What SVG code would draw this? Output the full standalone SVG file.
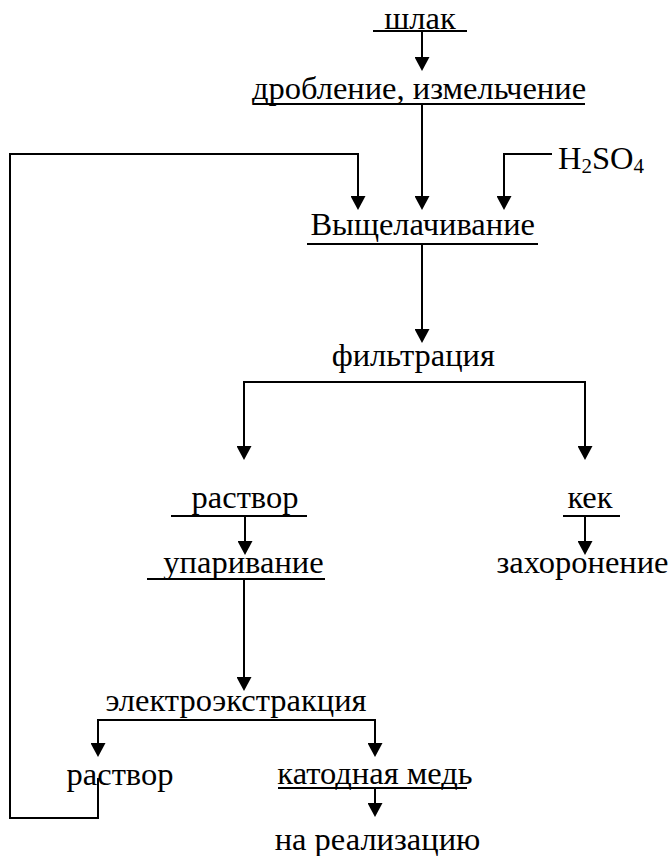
<svg xmlns="http://www.w3.org/2000/svg" width="670" height="856" viewBox="0 0 670 856">
<style>
.ul{stroke:#000;stroke-width:2;fill:none}
.c{stroke:#000;stroke-width:2;fill:none}
.a{stroke:#000;stroke-width:2;fill:none;marker-end:url(#ah)}
</style>
<defs>
<marker id="ah" viewBox="0 0 14 15" refX="11" refY="7.5" markerWidth="14" markerHeight="15" markerUnits="userSpaceOnUse" orient="auto">
<path d="M0,0 L14,7.5 L0,15 Z" fill="#000"/>
</marker>
</defs>
<rect width="670" height="856" fill="#fff"/>
<g id="connectors">
<path class="a" d="M422,31 V68"/>
<path class="a" d="M422,104 V207"/>
<path class="c" d="M98,778 V818 H10 V154 H358 V170"/>
<path class="a" d="M358,154 V207"/>
<path class="c" d="M552,154 H504 V170"/>
<path class="a" d="M504,154 V207"/>
<path class="a" d="M422,244 V340"/>
<path class="c" d="M244,382 H585"/>
<path class="a" d="M244,381 V457"/>
<path class="a" d="M585,381 V457"/>
<path class="a" d="M245,516 V552"/>
<path class="a" d="M585,516 V552"/>
<path class="a" d="M244,579 V688"/>
<path class="c" d="M98,720 H375"/>
<path class="a" d="M98,719 V754"/>
<path class="a" d="M375,719 V754"/>
<path class="a" d="M375,788 V814"/>
</g>
<g id="n-shlak">
<text x="420" y="29" font-family="Liberation Serif" font-size="32.5" text-anchor="middle">шлак</text>
<line class="ul" x1="373" y1="31" x2="467" y2="31"/>
</g>
<g id="n-droblenie">
<text x="419" y="99" font-family="Liberation Serif" font-size="32.5" text-anchor="middle">дробление, измельчение</text>
<line class="ul" x1="253" y1="104" x2="585" y2="104"/>
</g>
<g id="n-h2so4">
<text x="558" y="169" font-family="Liberation Serif" font-size="32.5">H<tspan font-size="21" dy="4">2</tspan><tspan dy="-4">SO</tspan><tspan font-size="21" dy="4">4</tspan></text>
</g>
<g id="n-vyshchelachivanie">
<text x="422.7" y="235" font-family="Liberation Serif" font-size="32.5" text-anchor="middle">Выщелачивание</text>
<line class="ul" x1="307" y1="244" x2="538" y2="244"/>
</g>
<g id="n-filtraciya">
<text x="413.3" y="366" font-family="Liberation Serif" font-size="32.5" text-anchor="middle">фильтрация</text>
</g>
<g id="n-rastvor1">
<text x="245" y="508" font-family="Liberation Serif" font-size="32.5" text-anchor="middle">раствор</text>
<line class="ul" x1="171" y1="516" x2="307" y2="516"/>
</g>
<g id="n-kek">
<text x="590" y="508" font-family="Liberation Serif" font-size="32.5" text-anchor="middle">кек</text>
<line class="ul" x1="563" y1="516" x2="620" y2="516"/>
</g>
<g id="n-uparivanie">
<text x="243.5" y="573" font-family="Liberation Serif" font-size="32.5" text-anchor="middle">упаривание</text>
<line class="ul" x1="147" y1="579" x2="325" y2="579"/>
</g>
<g id="n-zahoronenie">
<text x="582.5" y="573" font-family="Liberation Serif" font-size="32.5" text-anchor="middle">захоронение</text>
</g>
<g id="n-elektroekstrakciya">
<text x="236" y="711" font-family="Liberation Serif" font-size="32.5" text-anchor="middle">электроэкстракция</text>
</g>
<g id="n-rastvor2">
<text x="120" y="785" font-family="Liberation Serif" font-size="32.5" text-anchor="middle">раствор</text>
</g>
<g id="n-katodnaya">
<text x="375" y="784" font-family="Liberation Serif" font-size="32.5" text-anchor="middle">катодная медь</text>
<line class="ul" x1="278" y1="788" x2="467" y2="788"/>
</g>
<g id="n-realizaciya">
<text x="377.5" y="850" font-family="Liberation Serif" font-size="32.5" text-anchor="middle">на реализацию</text>
</g>
</svg>
